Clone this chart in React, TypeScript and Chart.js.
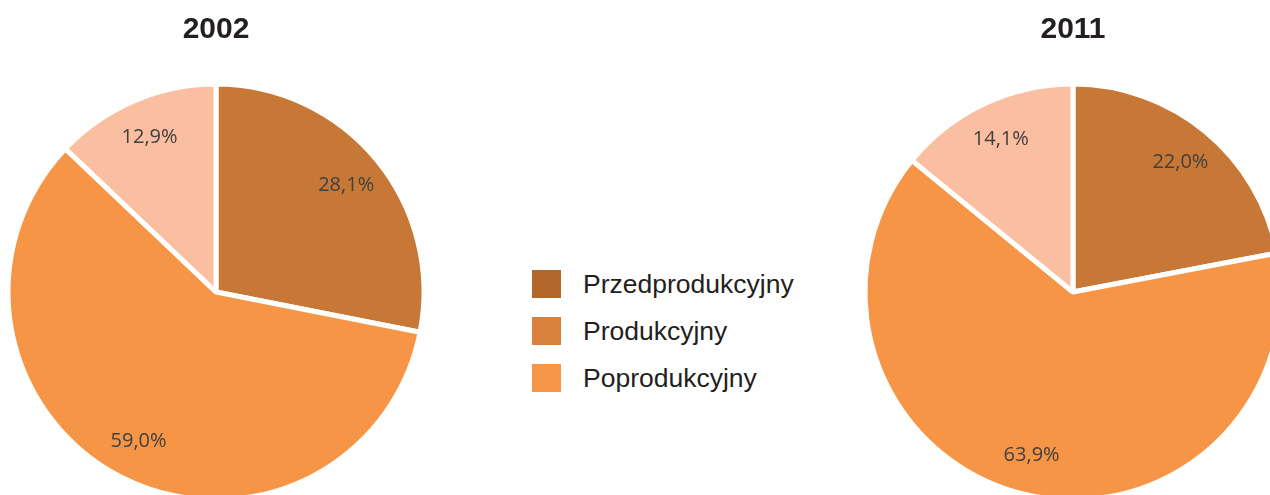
import React, { useEffect, useRef } from "react";
import { Chart, registerables } from "chart.js";

Chart.register(...registerables);

const categories = ["Przedprodukcyjny", "Produkcyjny", "Poprodukcyjny"];
const years = ["2002", "2011"];
const values2002 = [28.1, 59.0, 12.9];
const values2011 = [22.0, 63.9, 14.1];
const sliceColors = ["#c87836", "#f79546", "#fabea0"];
const legendColors = ["#b3672b", "#d8803e", "#f79646"];

const labelPlugin = {
  id: "sliceLabels",
  afterDatasetsDraw(chart: any) {
    const ctx = chart.ctx;
    const meta = chart.getDatasetMeta(0);
    const data = chart.data.datasets[0].data as number[];
    ctx.save();
    ctx.font = "20px 'Open Sans'";
    ctx.fillStyle = "#404040";
    ctx.textAlign = "center";
    ctx.textBaseline = "middle";
    meta.data.forEach((arc: any, i: number) => {
      const { x, y, startAngle, endAngle, outerRadius } = arc.getProps(
        ["x", "y", "startAngle", "endAngle", "outerRadius"],
        true
      );
      const a = (startAngle + endAngle) / 2;
      const r = outerRadius * 0.81;
      const text = data[i].toFixed(1).replace(".", ",") + "%";
      ctx.fillText(text, x + Math.cos(a) * r, y + Math.sin(a) * r);
    });
    ctx.restore();
  },
};

function PieChart({ title, values, left }: { title: string; values: number[]; left: number }) {
  const ref = useRef<HTMLCanvasElement | null>(null);
  useEffect(() => {
    if (!ref.current) return;
    const chart = new Chart(ref.current, {
      type: "pie",
      data: {
        labels: categories,
        datasets: [
          {
            data: values,
            backgroundColor: sliceColors,
            borderColor: "#ffffff",
            borderWidth: 5,
          },
        ],
      },
      options: {
        responsive: false,
        animation: false,
        devicePixelRatio: 1,
        radius: 208,
        layout: { padding: 0 },
        plugins: {
          legend: { display: false },
          tooltip: { enabled: false },
          title: {
            display: true,
            text: title,
            color: "#231f20",
            font: { family: "'Liberation Sans', Arial, sans-serif", size: 30, weight: "bold" },
            padding: { top: 12, bottom: 0 },
          },
        },
      } as any,
      plugins: [labelPlugin],
    });
    return () => chart.destroy();
  }, [title, values]);
  return (
    <canvas
      ref={ref}
      width={432}
      height={536}
      style={{ position: "absolute", left, top: 0, width: 432, height: 536 }}
    />
  );
}

export default function App() {
  return (
    <div
      style={{
        position: "fixed",
        left: 0,
        top: 0,
        width: 1270,
        height: 495,
        overflow: "hidden",
        background: "#ffffff",
      }}
    >
      <PieChart title={years[0]} values={values2002} left={0} />
      <PieChart title={years[1]} values={values2011} left={857} />
      <div style={{ position: "absolute", left: 532, top: 270 }}>
        {categories.map((c, i) => (
          <div
            key={c}
            style={{
              position: "absolute",
              left: 0,
              top: i * 47,
              height: 28,
              display: "flex",
              alignItems: "center",
              whiteSpace: "nowrap",
            }}
          >
            <div style={{ width: 29, height: 28, background: legendColors[i] }} />
            <span
              style={{
                marginLeft: 22,
                fontFamily: "'Liberation Sans', Arial, sans-serif",
                fontSize: 26.5,
                color: "#231f20",
                lineHeight: "28px",
              }}
            >
              {c}
            </span>
          </div>
        ))}
      </div>
    </div>
  );
}
